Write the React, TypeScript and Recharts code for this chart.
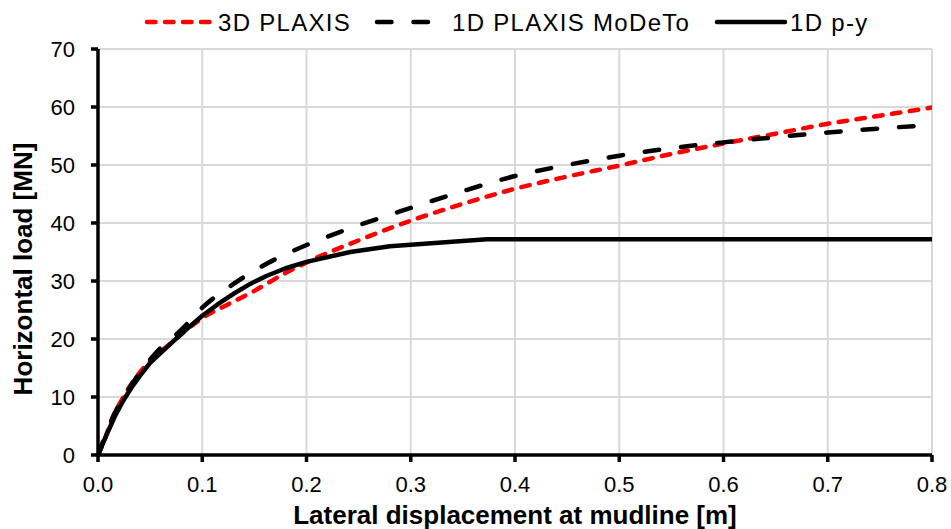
import React from 'react';
import { LineChart, Line, XAxis, YAxis, CartesianGrid } from 'recharts';

// 3D PLAXIS (red, dotted)
const plaxis3dX = [0, 0.005, 0.013, 0.025, 0.04, 0.055, 0.07, 0.085, 0.1, 0.125, 0.15, 0.175, 0.2, 0.25, 0.3, 0.35, 0.4, 0.45, 0.5, 0.55, 0.6, 0.65, 0.7, 0.75, 0.8];
const plaxis3dY = [0, 2.0, 6.0, 10.2, 14.2, 17.0, 19.3, 21.6, 23.6, 26.0, 28.3, 30.9, 33.2, 37.0, 40.4, 43.3, 45.9, 48.0, 49.9, 51.9, 53.7, 55.4, 57.1, 58.5, 59.9];

// 1D PLAXIS MoDeTo (black, dashed)
const modetoX = [0, 0.016, 0.035, 0.055, 0.08, 0.1, 0.13, 0.16, 0.2, 0.25, 0.3, 0.35, 0.4, 0.45, 0.5, 0.55, 0.6, 0.65, 0.7, 0.75, 0.8];
const modetoY = [0, 7.2, 12.9, 17.5, 21.6, 25.4, 29.5, 32.8, 36.2, 39.6, 42.6, 45.5, 48.1, 50.0, 51.6, 52.9, 53.9, 54.8, 55.6, 56.3, 56.9];

// 1D p-y (black, solid)
const pyX = [0, 0.008, 0.016, 0.024, 0.032, 0.04, 0.05, 0.062, 0.074, 0.087, 0.1, 0.115, 0.13, 0.146, 0.162, 0.18, 0.2, 0.242, 0.28, 0.373, 0.8];
const pyY = [0, 3.4, 6.6, 9.3, 11.6, 13.6, 15.9, 17.9, 19.9, 22.0, 24.0, 26.0, 27.8, 29.5, 30.9, 32.2, 33.3, 35.0, 36.0, 37.2, 37.2];

const xTicks = [0, 0.1, 0.2, 0.3, 0.4, 0.5, 0.6, 0.7, 0.8];
const yTicks = [0, 10, 20, 30, 40, 50, 60, 70];

const seriesNames = ['3D PLAXIS', '1D PLAXIS MoDeTo', '1D p-y'];
const xTitle = 'Lateral displacement at mudline [m]';
const yTitle = 'Horizontal load [MN]';

const zip = (xs: number[], ys: number[]) => xs.map((x, i) => ({ x, y: ys[i] }));
const plaxis3d = zip(plaxis3dX, plaxis3dY);
const modeto = zip(modetoX, modetoY);
const py = zip(pyX, pyY);

const FONT = '"Liberation Sans", Arial, "DejaVu Sans", sans-serif';

const RED_DASH = '8.5 9.5';
const BLACK_DASH = '14.5 22';
const LW = 4.5;

const legendItems = [
  { name: seriesNames[0], color: '#ff0000', dash: RED_DASH, x1: 147, x2: 215, textX: 218 },
  { name: seriesNames[1], color: '#000000', dash: BLACK_DASH, x1: 377, x2: 440, textX: 452 },
  { name: seriesNames[2], color: '#000000', dash: undefined, x1: 717, x2: 785, textX: 790 },
];

const YTitle = (props: any) => {
  const vb = props.viewBox || {};
  const cx = 23;
  const cy = (vb.y || 0) + (vb.height || 0) / 2 + 17;
  return (
    <text
      x={cx}
      y={cy}
      transform={`rotate(-90, ${cx}, ${cy})`}
      textAnchor="middle"
      dominantBaseline="central"
      fontFamily={FONT}
      fontSize={26}
      fontWeight="bold"
      fill="#000"
    >
      {yTitle}
    </text>
  );
};

const XTitle = (props: any) => {
  const vb = props.viewBox || {};
  const cx = (vb.x || 0) + (vb.width || 0) / 2;
  return (
    <text x={cx} y={524} textAnchor="middle" fontFamily={FONT} fontSize={26} fontWeight="bold" fill="#000">
      {xTitle}
    </text>
  );
};

export default function App() {
  return (
    <div style={{ position: 'relative', width: 951, height: 529, background: '#fff' }}>
      <style>{'body{margin:0;}'}</style>
      <LineChart width={951} height={529} margin={{ top: 49, right: 19, bottom: 0, left: 0 }}>
        <CartesianGrid stroke="#d9d9d9" strokeWidth={2} />
        <XAxis
          type="number"
          dataKey="x"
          domain={[0, 0.8]}
          ticks={xTicks}
          tickFormatter={(v: number) => v.toFixed(1)}
          height={74}
          tickSize={7}
          tickMargin={14}
          axisLine={{ stroke: '#000', strokeWidth: 3.5 }}
          tickLine={{ stroke: '#000', strokeWidth: 3.5 }}
          tick={{ fill: '#000', fontSize: 22, fontFamily: FONT }}
          interval={0}
          allowDataOverflow
          label={<XTitle />}
        />
        <YAxis
          type="number"
          dataKey="y"
          domain={[0, 70]}
          ticks={yTicks}
          width={98}
          tickSize={7}
          tickMargin={16}
          axisLine={{ stroke: '#000', strokeWidth: 3.5 }}
          tickLine={{ stroke: '#000', strokeWidth: 3.5 }}
          tick={{ fill: '#000', fontSize: 22, fontFamily: FONT }}
          interval={0}
          label={<YTitle />}
        />
        <Line
          data={plaxis3d}
          dataKey="y"
          type="monotone"
          stroke="#ff0000"
          strokeWidth={LW}
          strokeDasharray={RED_DASH}
          strokeLinecap="round"
          dot={false}
          activeDot={false}
          isAnimationActive={false}
          name={seriesNames[0]}
        />
        <Line
          data={modeto}
          dataKey="y"
          type="monotone"
          stroke="#000"
          strokeWidth={LW}
          strokeDasharray={BLACK_DASH}
          strokeLinecap="round"
          dot={false}
          activeDot={false}
          isAnimationActive={false}
          name={seriesNames[1]}
        />
        <Line
          data={py}
          dataKey="y"
          type="linear"
          stroke="#000"
          strokeWidth={LW}
          strokeLinejoin="round"
          strokeLinecap="round"
          dot={false}
          activeDot={false}
          isAnimationActive={false}
          name={seriesNames[2]}
        />
      </LineChart>
      <svg
        width={951}
        height={44}
        style={{ position: 'absolute', left: 0, top: 0, pointerEvents: 'none' }}
      >
        {legendItems.map((it) => (
          <g key={it.name}>
            <line
              x1={it.x1}
              y1={22}
              x2={it.x2}
              y2={22}
              stroke={it.color}
              strokeWidth={LW}
              strokeDasharray={it.dash}
              strokeLinecap="round"
            />
            <text
              x={it.textX}
              y={30.5}
              fontFamily={FONT}
              fontSize={24}
              letterSpacing={1.3}
              fill="#000"
            >
              {it.name}
            </text>
          </g>
        ))}
      </svg>
    </div>
  );
}
